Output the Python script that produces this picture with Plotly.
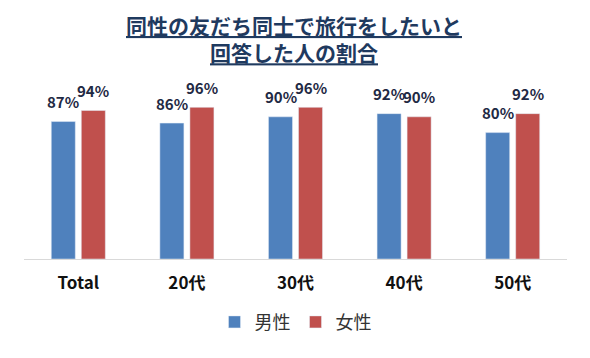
import plotly.graph_objects as go

categories = ["Total", "20代", "30代", "40代", "50代"]
male = [87, 86, 90, 92, 80]
female = [94, 96, 96, 90, 92]
series_names = ["男性", "女性"]
title_lines = ["同性の友だち同士で旅行をしたいと", "回答した人の割合"]

FONT = "Noto Sans CJK JP"
BLUE = "#4F81BD"
RED = "#C0504D"
LABEL_COLOR = "#1F2A44"

# the page body adds an 8px margin, so the figure is drawn 8px smaller
W, H = 582, 350
ML, MR, MT, MB = 16, 23, 93, 99
plot_h = H - MT - MB

fig = go.Figure()
fig.add_trace(go.Bar(name=series_names[0], x=categories, y=male, marker_color=BLUE))
fig.add_trace(go.Bar(name=series_names[1], x=categories, y=female, marker_color=RED))

ann = []
for vals, shift in ((male, -15), (female, 15)):
    for c, v in zip(categories, vals):
        ann.append(dict(x=c, y=v, xref="x", yref="y", text=f"<b>{v}%</b>",
                        showarrow=False, xshift=shift, yshift=20, yanchor="middle",
                        font=dict(family=FONT, size=15, color=LABEL_COLOR)))

title_text = "<br>".join(f"<b><u>{t}</u></b>" for t in title_lines)
ann.append(dict(x=0.497, y=1 + (MT - 1) / plot_h, xref="paper", yref="paper",
                text=title_text, showarrow=False, xanchor="center", yanchor="top",
                borderpad=0,
                font=dict(family=FONT, size=21, color="#1F3A5F")))

fig.update_layout(
    width=W, height=H,
    margin=dict(l=ML, r=MR, t=MT, b=MB),
    paper_bgcolor="white", plot_bgcolor="white",
    barmode="group", bargap=0.447, bargroupgap=0.2,
    xaxis=dict(showline=True, linecolor="#D9D9D9", linewidth=1, ticks="",
               ticklabelstandoff=9,
               tickfont=dict(family=FONT, size=17, color="#111111", weight="bold")),
    yaxis=dict(range=[0, 100], visible=False, showgrid=False),
    legend=dict(orientation="h", x=0.5, xanchor="center", y=-0.4, yanchor="middle",
                font=dict(family=FONT, size=18, color="#333333"), itemwidth=30),
    annotations=ann,
)

fig.write_html("out.html")
